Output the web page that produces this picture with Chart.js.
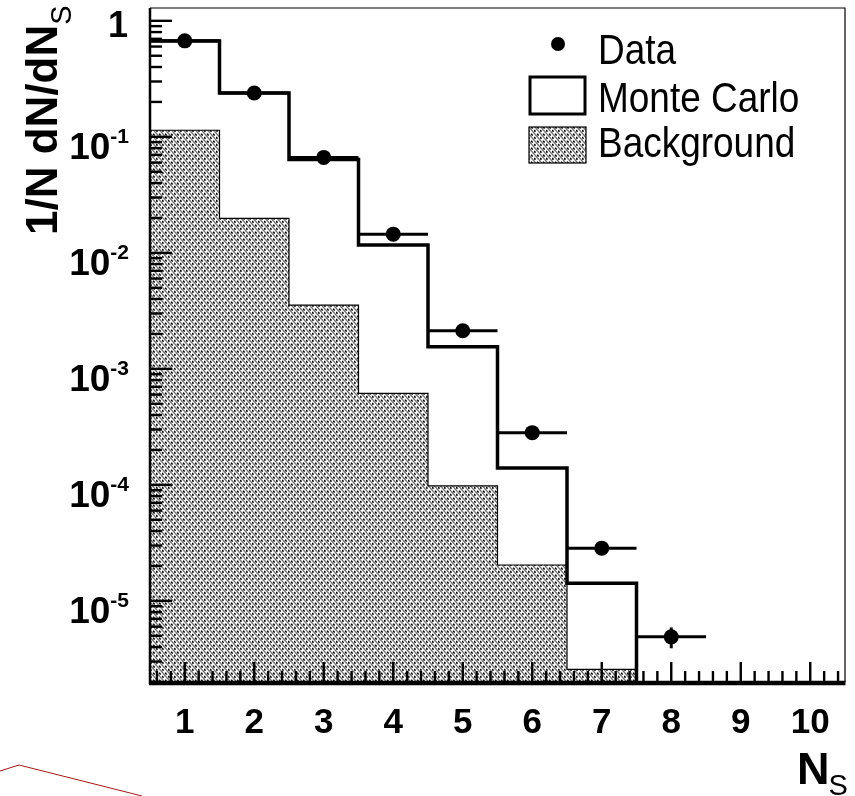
<!DOCTYPE html>
<html>
<head>
<meta charset="utf-8">
<title>1/N dN/dN_S</title>
<script src="https://cdn.jsdelivr.net/npm/chart.js@4/dist/chart.umd.min.js"></script>
<style>
  html, body { margin: 0; padding: 0; background: #fff; }
  #wrap { position: relative; width: 855px; height: 796px; }
  #deco { position: absolute; left: 0; top: 0; pointer-events: none; }
</style>
</head>
<body>
<div id="wrap">
  <canvas id="nsChart" width="855" height="796"></canvas>
  <svg id="deco" width="855" height="796"><polyline points="0,771 19,765 142,796" fill="none" stroke="#a01818" stroke-width="1"/></svg>
</div>
<script>
// histogram bins (N_S = 1..7)
const binCenters = [1, 2, 3, 4, 5, 6, 7];
const monteCarlo = [0.67, 0.239, 0.0638, 0.0117, 0.00155, 1.40e-4, 1.42e-5];
const background = [0.114, 0.0198, 0.00354, 6.14e-4, 9.8e-5, 2.04e-5, 2.57e-6];

// measured points with errors
const dataNs = [1, 2, 3, 4, 5, 6, 7, 8];
const dataVals = [0.672, 0.239, 0.0665, 0.0145, 0.00213, 2.82e-4, 2.85e-5, 4.9e-6];
const dataErrX = [0.5, 0.5, 0.5, 0.5, 0.5, 0.5, 0.5, 0.5];
const dataErrY = [0.004, 0.002, 0.0008, 0.0003, 0.00005, 0.00001, 0.000003, 0.000001];

// axes
const xTickLabels = ["1", "2", "3", "4", "5", "6", "7", "8", "9", "10"];
const yTickValues = [1, 1e-1, 1e-2, 1e-3, 1e-4, 1e-5];
const yTickBase = ["1", "10", "10", "10", "10", "10"];
const yTickExp = ["", "-1", "-2", "-3", "-4", "-5"];
const legendLabels = ["Data", "Monte Carlo", "Background"];

const X_MIN = 0.5, X_MAX = 10.5, Y_MIN = 2e-6, Y_MAX = 1.29;
const FONT = '"Liberation Sans", Arial, Helvetica, sans-serif';

const ctx = document.getElementById("nsChart").getContext("2d");

// hatch pattern for the background histogram: steep "\" stripes with black dashes
const makeHatch = () => {
    const w = 6, h = 7;
    const c = document.createElement("canvas");
    c.width = w; c.height = h;
    const g = c.getContext("2d");
    g.fillStyle = "#fff";
    g.fillRect(0, 0, w, h);
    g.lineWidth = 1.3;
    g.strokeStyle = "#6e6e6e";
    [[0, 0], [-w, 0], [w, 0], [0, -h], [0, h]].forEach(([ox, oy]) => {
        g.beginPath(); g.moveTo(ox, oy); g.lineTo(ox + w, oy + h); g.stroke();
    });
    g.strokeStyle = "#000";
    g.lineWidth = 1.6;
    g.beginPath(); g.moveTo(3.2, 0.6); g.lineTo(4.6, 2.6); g.stroke();
    g.beginPath(); g.moveTo(0.2, 3.9); g.lineTo(1.4, 5.8); g.stroke();
    return ctx.createPattern(c, "repeat");
};
const hatch = makeHatch();

// step points: left edge of each bin, then drop at the last edge
const histPoints = (vals) => {
    const pts = vals.map((v, i) => ({ x: binCenters[i] - 0.5, y: v }));
    pts.push({ x: binCenters[binCenters.length - 1] + 0.5, y: Y_MIN });
    return pts;
};

const frameAndLabels = {
    id: "frameAndLabels",
    afterDatasetsDraw(chart) {
        const c = chart.ctx;
        const { left, right, top, bottom } = chart.chartArea;
        const xs = chart.scales.x, ys = chart.scales.y;
        c.save();
        c.strokeStyle = "#000";
        c.lineCap = "butt";

        // error bars
        c.lineWidth = 3;
        dataNs.forEach((n, i) => {
            const px = xs.getPixelForValue(n);
            const py = ys.getPixelForValue(dataVals[i]);
            c.beginPath();
            c.moveTo(xs.getPixelForValue(n - dataErrX[i]), py);
            c.lineTo(xs.getPixelForValue(n + dataErrX[i]), py);
            c.moveTo(px, ys.getPixelForValue(dataVals[i] + dataErrY[i]));
            c.lineTo(px, ys.getPixelForValue(Math.max(dataVals[i] - dataErrY[i], Y_MIN)));
            c.stroke();
        });

        // frame
        c.lineWidth = 1.2;
        c.beginPath(); c.moveTo(left, top); c.lineTo(right, top); c.lineTo(right, bottom); c.stroke();
        c.lineWidth = 2.5;
        c.beginPath(); c.moveTo(left, top); c.lineTo(left, bottom + 2); c.stroke();
        c.lineWidth = 4.5;
        c.beginPath(); c.moveTo(left - 1, bottom + 1); c.lineTo(right + 0.5, bottom + 1); c.stroke();

        // y ticks (inside)
        c.lineWidth = 2.4;
        for (let e = -6; e <= 0; e++) {
            for (let m = 1; m <= 9; m++) {
                const v = m * Math.pow(10, e);
                if (v < Y_MIN || v > Y_MAX) continue;
                const py = ys.getPixelForValue(v);
                c.beginPath(); c.moveTo(left, py); c.lineTo(left + (m === 1 ? 22 : 12), py); c.stroke();
            }
        }
        // x ticks (inside)
        for (let k = 3; k <= 52; k++) {
            const v = k * 0.2;
            if (v <= X_MIN || v >= X_MAX) continue;
            const px = xs.getPixelForValue(v);
            const major = k % 5 === 0;
            c.beginPath(); c.moveTo(px, bottom); c.lineTo(px, bottom - (major ? 20 : 11)); c.stroke();
        }

        // y tick labels
        c.fillStyle = "#000";
        c.textBaseline = "alphabetic";
        yTickValues.forEach((v, i) => {
            const py = ys.getPixelForValue(v);
            if (!yTickExp[i]) {
                c.font = "bold 36px " + FONT;
                c.textAlign = "right";
                c.fillText(yTickBase[i], 128, py + 16);
            } else {
                c.font = "bold 21px " + FONT;
                c.textAlign = "right";
                c.fillText(yTickExp[i], 129, py + 6);
                const w = c.measureText(yTickExp[i]).width;
                c.font = "bold 37px " + FONT;
                c.fillText(yTickBase[i], 129 - w, py + 22);
            }
        });

        // x tick labels
        c.font = "bold 35px " + FONT;
        c.textAlign = "center";
        xTickLabels.forEach((t) => {
            c.fillText(t, xs.getPixelForValue(Number(t)), 733);
        });

        // axis titles
        c.textAlign = "left";
        c.font = "bold 45px " + FONT;
        c.fillText("N", 797, 784);
        const nw = c.measureText("N").width;
        c.font = "29px " + FONT;
        c.fillText("S", 796 + nw, 795);

        c.save();
        c.translate(57, 235);
        c.rotate(-Math.PI / 2);
        c.font = "bold 44px " + FONT;
        c.fillText("1/N dN/dN", 0, 0);
        const tw = c.measureText("1/N dN/dN").width;
        c.font = "29px " + FONT;
        c.fillText("S", tw, 14);
        c.restore();

        // legend
        c.beginPath(); c.arc(558, 44, 7, 0, Math.PI * 2); c.fill();
        c.lineWidth = 3;
        c.strokeRect(530, 77, 55, 37);
        c.fillStyle = hatch;
        c.fillRect(529, 127, 57, 36);
        c.lineWidth = 1.2;
        c.strokeRect(529, 127, 57, 36);
        c.fillStyle = "#000";
        c.font = "42px " + FONT;
        const baselines = [64, 112, 157];
        legendLabels.forEach((t, i) => {
            c.save();
            c.translate(598, baselines[i]);
            c.scale(0.88, 1);
            c.fillText(t, 0, 0);
            c.restore();
        });
        c.restore();
    }
};

new Chart(ctx, {
    type: "line",
    data: {
        datasets: [
            {
                label: legendLabels[0],
                data: dataNs.map((n, i) => ({ x: n, y: dataVals[i] })),
                showLine: false,
                pointRadius: 7.5,
                pointBackgroundColor: "#000",
                pointBorderWidth: 0,
                order: 0,
            },
            {
                label: legendLabels[1],
                data: histPoints(monteCarlo),
                stepped: true,
                borderColor: "#000",
                borderWidth: 3.5,
                borderJoinStyle: "miter",
                pointRadius: 0,
                fill: false,
                order: 1,
            },
            {
                label: legendLabels[2],
                data: histPoints(background),
                stepped: true,
                borderColor: "#000",
                borderWidth: 1.2,
                borderJoinStyle: "miter",
                backgroundColor: hatch,
                pointRadius: 0,
                fill: "start",
                order: 2,
            },
        ],
    },
    options: {
        responsive: false,
        devicePixelRatio: 1,
        animation: false,
        layout: { padding: { left: 150, top: 8, right: 10, bottom: 114 } },
        plugins: { legend: { display: false }, tooltip: { enabled: false } },
        scales: {
            x: { type: "linear", min: X_MIN, max: X_MAX, display: false },
            y: { type: "logarithmic", min: Y_MIN, max: Y_MAX, display: false },
        },
    },
    plugins: [frameAndLabels],
});
</script>
</body>
</html>
